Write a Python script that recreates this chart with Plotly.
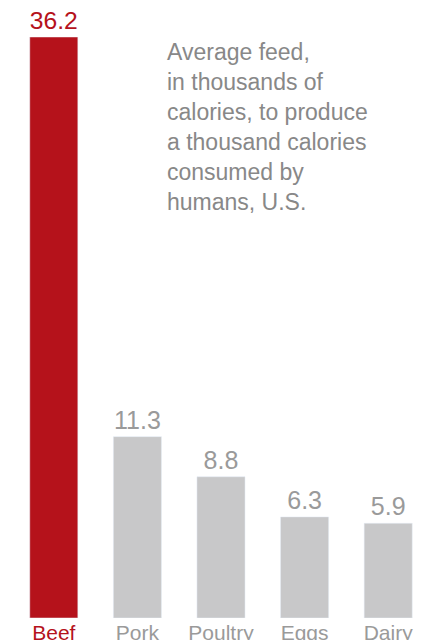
import plotly.graph_objects as go

categories = ["Beef", "Pork", "Poultry", "Eggs", "Dairy"]
values = [36.2, 11.3, 8.8, 6.3, 5.9]
highlight = "Beef"

RED = "#b5121b"
GRAY = "#c8c8c9"
TXT = "#9a9a9a"

bar_colors = [RED if c == highlight else GRAY for c in categories]
label_colors = [RED if c == highlight else TXT for c in categories]
ticktext = [f'<span style="color:{col}">{c}</span>' for c, col in zip(categories, label_colors)]

fig = go.Figure(go.Bar(
    x=categories, y=values, marker_color=bar_colors,
    text=[f"{v:.1f}" for v in values], textposition="outside",
    textfont=dict(size=25, color=label_colors, family="Liberation Sans"),
    cliponaxis=False,
))
fig.update_layout(
    width=440, height=640, margin=dict(l=4, r=18, t=29, b=28),
    plot_bgcolor="white", paper_bgcolor="white", bargap=0.425,
    showlegend=False, font=dict(family="Liberation Sans", color=TXT),
    xaxis=dict(tickmode="array", tickvals=categories, ticktext=ticktext,
               tickfont=dict(size=21), showline=False, ticks="", showgrid=False),
    yaxis=dict(range=[0, 36.2], visible=False),
)
fig.add_annotation(
    xref="paper", yref="paper", x=0.366, y=1.0, xanchor="left", yanchor="top",
    align="left", showarrow=False,
    text="Average feed,<br>in thousands of<br>calories, to produce<br>a thousand calories<br>consumed by<br>humans, U.S.",
    font=dict(size=23, color="#888888", family="Liberation Sans"),
)
fig.write_html("out.html")
